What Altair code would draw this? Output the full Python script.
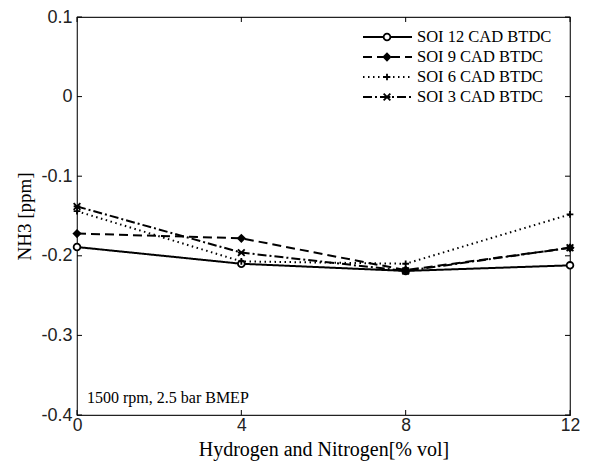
import altair as alt
import pandas as pd

# ---- data ----
x_vals = [0, 4, 8, 12]
series = ["SOI 12 CAD BTDC", "SOI 9 CAD BTDC", "SOI 6 CAD BTDC", "SOI 3 CAD BTDC"]
soi12 = [-0.189, -0.210, -0.219, -0.212]
soi9 = [-0.172, -0.178, -0.218, -0.190]
soi6 = [-0.144, -0.207, -0.210, -0.148]
soi3 = [-0.138, -0.196, -0.219, -0.190]
x_ticks = [0, 4, 8, 12]
y_ticks = [-0.4, -0.3, -0.2, -0.1, 0.0, 0.1]
annotation = "1500 rpm, 2.5 bar BMEP"
x_title = "Hydrogen and Nitrogen[% vol]"
y_title = "NH3 [ppm]"

rows = []
for name, vals in zip(series, [soi12, soi9, soi6, soi3]):
    for xv, yv in zip(x_vals, vals):
        rows.append({"series": name, "x": xv, "y": yv})
df = pd.DataFrame(rows)
legend_df = pd.DataFrame({"series": series, "row": list(range(len(series)))})

W, H = 493, 398
serif = "Liberation Serif"
sans = "Liberation Sans"

xscale = alt.Scale(domain=[0, 12], nice=False, zero=False)
yscale = alt.Scale(domain=[-0.4, 0.1], nice=False, zero=False)
dash_scale = alt.Scale(domain=series, range=[[1, 0], [9, 5], [1.5, 3.5], [9, 3, 2, 3]])
shape_scale = alt.Scale(
    domain=series,
    range=["circle", "diamond", "M-1,0L1,0M0,-1L0,1", "M-1,-1L1,1M-1,1L1,-1M-1,0L1,0"],
)
fill_scale = alt.Scale(domain=series, range=["white", "black", "white", "white"])

base = alt.Chart(df)

lines = base.mark_line(color="black", strokeWidth=2).encode(
    x=alt.X("x:Q", scale=xscale,
            axis=alt.Axis(values=x_ticks, title=x_title, grid=False, domain=False, ticks=False,
                          labelFont=sans, labelFontSize=17.5, labelPadding=1, labelFlush=False,
                          titleFont=serif, titleFontSize=20, titlePadding=6, titleFontWeight="normal",
                          labelColor="#222", titleColor="black")),
    y=alt.Y("y:Q", scale=yscale,
            axis=alt.Axis(values=y_ticks, title=y_title, grid=False, domain=False, ticks=False,
                          labelFont=sans, labelFontSize=18, labelPadding=5,
                          labelExpr="toString(round(datum.value*10)/10)",
                          titleFont=serif, titleFontSize=19, titlePadding=6, titleFontWeight="normal",
                          labelColor="#222", titleColor="black")),
    detail="series:N",
    strokeDash=alt.StrokeDash("series:N", scale=dash_scale, legend=None),
)

points = base.mark_point(filled=False, size=45, strokeWidth=1.8, stroke="black", opacity=1).encode(
    x=alt.X("x:Q", scale=xscale),
    y=alt.Y("y:Q", scale=yscale),
    shape=alt.Shape("series:N", scale=shape_scale, legend=None),
    fill=alt.Fill("series:N", scale=fill_scale, legend=None),
)

ytick_df = pd.DataFrame({"v": y_ticks})
xtick_df = pd.DataFrame({"v": x_ticks})
yt_left = alt.Chart(ytick_df).mark_rule(color="black").encode(
    y=alt.Y("v:Q", scale=yscale), x=alt.value(0), x2=alt.value(5))
yt_right = alt.Chart(ytick_df).mark_rule(color="black").encode(
    y=alt.Y("v:Q", scale=yscale), x=alt.value(W - 5), x2=alt.value(W))
xt_bottom = alt.Chart(xtick_df).mark_rule(color="black").encode(
    x=alt.X("v:Q", scale=xscale), y=alt.value(H - 5), y2=alt.value(H))
xt_top = alt.Chart(xtick_df).mark_rule(color="black").encode(
    x=alt.X("v:Q", scale=xscale), y=alt.value(0), y2=alt.value(5))

note = alt.Chart(pd.DataFrame({"t": [annotation]})).mark_text(
    font=serif, fontSize=16, align="left", baseline="alphabetic", color="black"
).encode(text="t:N", x=alt.value(10), y=alt.value(386))

main = alt.layer(lines, points, yt_left, yt_right, xt_bottom, xt_top, note)

# ---- hand-built legend ----
lscale = alt.Scale(domain=[0, 3], range=[20, 80])
lbase = alt.Chart(legend_df)
leg_lines = lbase.mark_rule(color="black", strokeWidth=2).encode(
    y=alt.Y("row:Q", scale=lscale, axis=None),
    x=alt.value(286), x2=alt.value(335),
    strokeDash=alt.StrokeDash("series:N", scale=dash_scale, legend=None),
)
leg_pts = lbase.mark_point(filled=False, size=45, strokeWidth=1.8, stroke="black", opacity=1).encode(
    y=alt.Y("row:Q", scale=lscale, axis=None),
    x=alt.value(310),
    shape=alt.Shape("series:N", scale=shape_scale, legend=None),
    fill=alt.Fill("series:N", scale=fill_scale, legend=None),
)
leg_txt = lbase.mark_text(font=serif, fontSize=16.5, align="left", baseline="middle", color="black").encode(
    y=alt.Y("row:Q", scale=lscale, axis=None),
    x=alt.value(340),
    text="series:N",
)
legend = alt.layer(leg_lines, leg_pts, leg_txt)

chart = alt.layer(main, legend).resolve_scale(y="independent").properties(
    width=W, height=H,
    autosize=alt.AutoSizeParams(type="none"),
    padding={"left": 69, "top": 9, "right": 11, "bottom": 50},
    background="white",
).configure_view(stroke="#222", strokeWidth=1.2)

chart.save("out.html", embed_options={"renderer": "svg", "actions": False})
